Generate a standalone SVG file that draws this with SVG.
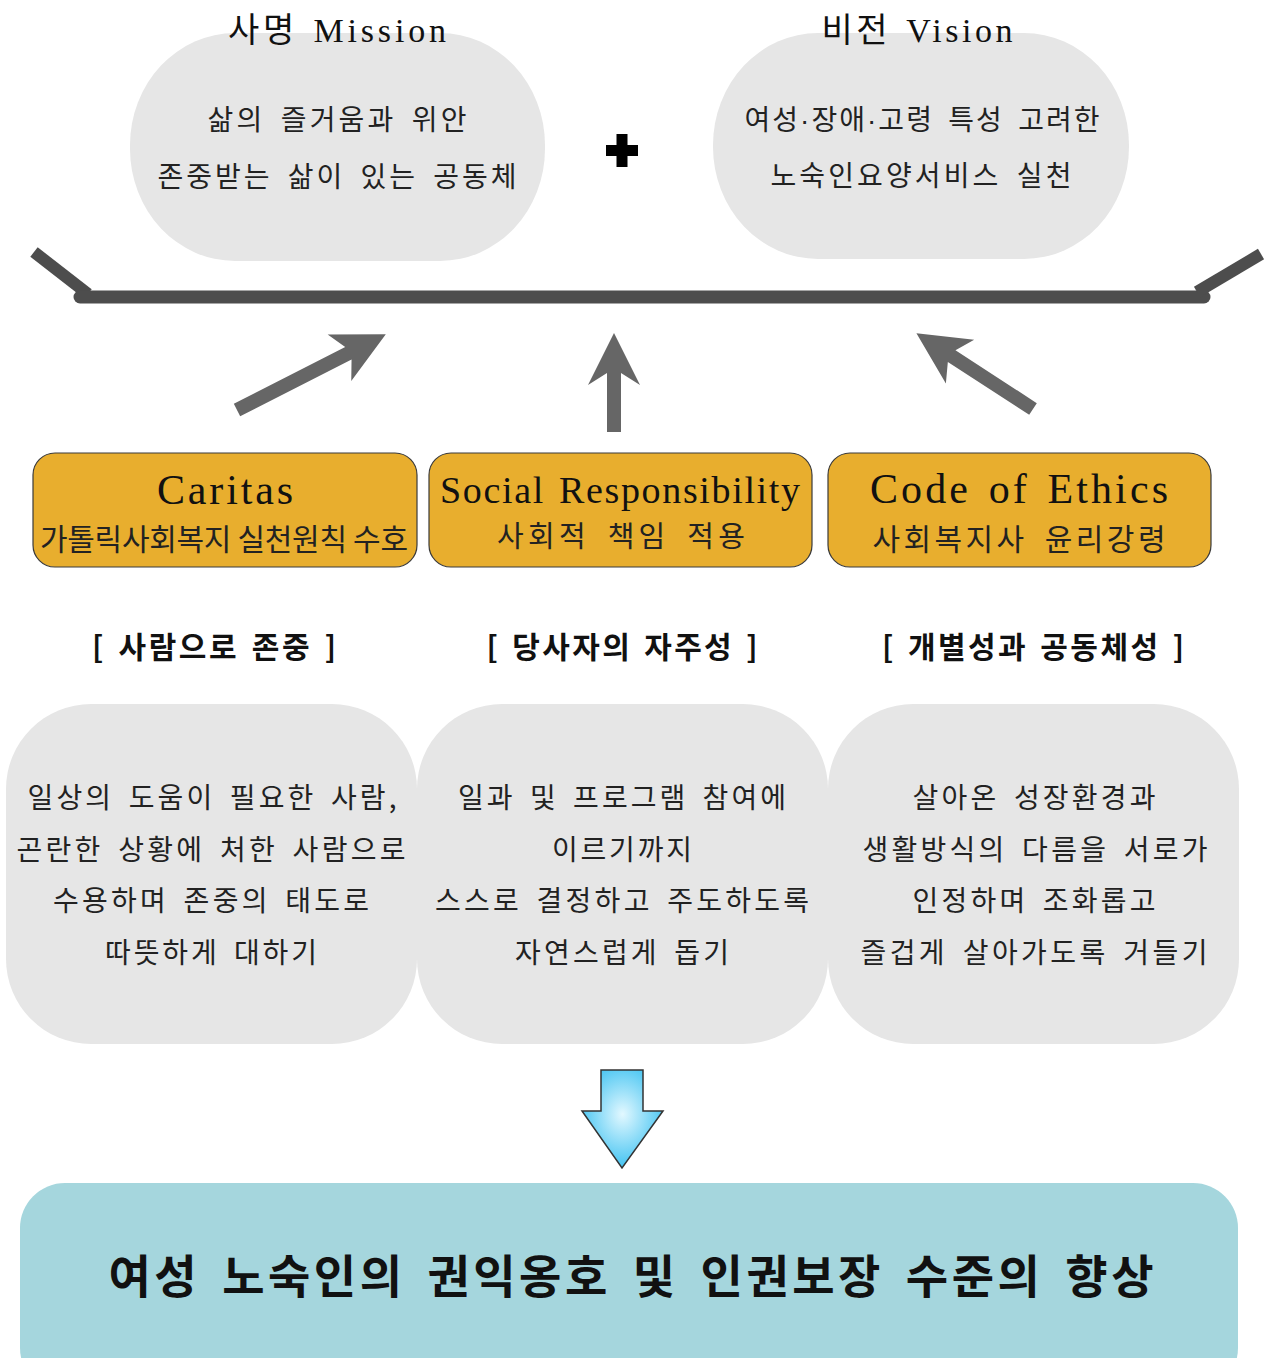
<svg xmlns="http://www.w3.org/2000/svg" width="1266" height="1358" viewBox="0 0 1266 1358">
<style>
.t{font-family:'Liberation Serif','Noto Sans CJK KR',serif;fill:#111;text-anchor:middle}
.k{font-family:'Noto Sans CJK KR','Liberation Sans',sans-serif;fill:#222;text-anchor:middle}
.hb{font-family:'Noto Sans CJK KR','Liberation Sans',sans-serif;font-weight:700;fill:#111;text-anchor:middle}
.pill{fill:#e6e6e6}
.gbox{fill:#e6e6e6}
.obox{fill:#e8ae2e;stroke:#3a3a3a;stroke-width:1.2}
.arr{fill:#666666}
.dot{font-family:'Liberation Sans',sans-serif}
</style>
<defs>
<radialGradient id="blue" cx="50%" cy="45%" r="60%">
<stop offset="0" stop-color="#e2f8ff"/>
<stop offset="1" stop-color="#33bef0"/>
</radialGradient>
</defs>

<g id="mission">
<rect class="pill" x="130" y="33" width="415" height="228" rx="105" ry="112"/>
<text class="t" x="337" y="42" font-size="34" word-spacing="3" textLength="218" lengthAdjust="spacing">사명 Mission</text>
<text class="k" x="337" y="130" font-size="28" word-spacing="6" textLength="259" lengthAdjust="spacing">삶의 즐거움과 위안</text>
<text class="k" x="337" y="187" font-size="28" word-spacing="6" textLength="359" lengthAdjust="spacing">존중받는 삶이 있는 공동체</text>
</g>

<g id="plus">
<rect x="606" y="145" width="32" height="11" fill="#000"/>
<rect x="616.5" y="134" width="11" height="33" fill="#000"/>
</g>

<g id="vision">
<rect class="pill" x="713" y="33" width="416" height="226" rx="105" ry="112"/>
<text class="t" x="917" y="42" font-size="34" word-spacing="3" textLength="191" lengthAdjust="spacing">비전 Vision</text>
<text class="k" x="922" y="130" font-size="28" word-spacing="6" textLength="355" lengthAdjust="spacing">여성<tspan class="dot">·</tspan>장애<tspan class="dot">·</tspan>고령 특성 고려한</text>
<text class="k" x="921" y="186" font-size="28" word-spacing="6" textLength="301" lengthAdjust="spacing">노숙인요양서비스 실천</text>
</g>

<g id="connectors">
<line x1="34" y1="252" x2="88" y2="294" stroke="#4d4d4d" stroke-width="12"/>
<line x1="80" y1="297" x2="1204" y2="297" stroke="#4d4d4d" stroke-width="13" stroke-linecap="round"/>
<line x1="1197" y1="292" x2="1261" y2="254" stroke="#4d4d4d" stroke-width="12"/>
<path class="arr" transform="translate(237,410) rotate(-27)" d="M0,-7 L125,-7 L115,-26 L167,0 L115,26 L125,7 L0,7 Z"/>
<path class="arr" transform="translate(614,432) rotate(-90)" d="M0,-7 L59,-7 L47,-26 L99,0 L47,26 L59,7 L0,7 Z"/>
<path class="arr" transform="translate(1033,409) rotate(-147)" d="M0,-7 L97,-7 L87,-26 L139,0 L87,26 L97,7 L0,7 Z"/>
<path d="M601,1070 L643,1070 L643,1111 L663,1111 L622,1168 L582,1111 L601,1111 Z" fill="url(#blue)" stroke="#333" stroke-width="1.5" stroke-linejoin="miter"/>
</g>

<g id="caritas">
<rect class="obox" x="33" y="453" width="384" height="114" rx="22"/>
<text class="t" x="225" y="504" font-size="42" textLength="136" lengthAdjust="spacing">Caritas</text>
<text class="k" x="224" y="550" font-size="30" textLength="368" lengthAdjust="spacing">가톨릭사회복지 실천원칙 수호</text>
</g>

<g id="social">
<rect class="obox" x="429" y="453" width="383" height="114" rx="22"/>
<text class="t" x="620" y="503" font-size="38" word-spacing="3" textLength="360" lengthAdjust="spacing">Social Responsibility</text>
<text class="k" x="621" y="547" font-size="29" word-spacing="7" textLength="248" lengthAdjust="spacing">사회적 책임 적용</text>
</g>

<g id="ethics">
<rect class="obox" x="828" y="453" width="383" height="114" rx="22"/>
<text class="t" x="1019" y="503" font-size="42" word-spacing="4" textLength="298" lengthAdjust="spacing">Code of Ethics</text>
<text class="k" x="1019" y="550" font-size="30" word-spacing="7" textLength="293" lengthAdjust="spacing">사회복지사 윤리강령</text>
</g>

<g id="respect">
<text class="hb" x="214" y="658" font-size="30" word-spacing="3" textLength="244" lengthAdjust="spacing">[ 사람으로 존중 ]</text>
<rect class="gbox" x="6" y="704" width="411" height="340" rx="85"/>
<text class="k" x="212" y="808" font-size="28" word-spacing="5" textLength="369" lengthAdjust="spacing">일상의 도움이 필요한 사람,</text>
<text class="k" x="211" y="860" font-size="28" word-spacing="5" textLength="389" lengthAdjust="spacing">곤란한 상황에 처한 사람으로</text>
<text class="k" x="211" y="911" font-size="28" word-spacing="5" textLength="316" lengthAdjust="spacing">수용하며 존중의 태도로</text>
<text class="k" x="211" y="963" font-size="28" word-spacing="5" textLength="212" lengthAdjust="spacing">따뜻하게 대하기</text>
</g>

<g id="autonomy">
<text class="hb" x="622" y="658" font-size="30" word-spacing="3" textLength="271" lengthAdjust="spacing">[ 당사자의 자주성 ]</text>
<rect class="gbox" x="417" y="704" width="411" height="340" rx="85"/>
<text class="k" x="622" y="808" font-size="28" word-spacing="5" textLength="328" lengthAdjust="spacing">일과 및 프로그램 참여에</text>
<text class="k" x="622" y="860" font-size="28" word-spacing="5" textLength="140" lengthAdjust="spacing">이르기까지</text>
<text class="k" x="622" y="911" font-size="28" word-spacing="5" textLength="374" lengthAdjust="spacing">스스로 결정하고 주도하도록</text>
<text class="k" x="622" y="963" font-size="28" word-spacing="5" textLength="214" lengthAdjust="spacing">자연스럽게 돕기</text>
</g>

<g id="community">
<text class="hb" x="1033" y="658" font-size="30" word-spacing="3" textLength="302" lengthAdjust="spacing">[ 개별성과 공동체성 ]</text>
<rect class="gbox" x="828" y="704" width="411" height="340" rx="85"/>
<text class="k" x="1034" y="808" font-size="28" word-spacing="5" textLength="243" lengthAdjust="spacing">살아온 성장환경과</text>
<text class="k" x="1035" y="860" font-size="28" word-spacing="5" textLength="345" lengthAdjust="spacing">생활방식의 다름을 서로가</text>
<text class="k" x="1034" y="911" font-size="28" word-spacing="5" textLength="243" lengthAdjust="spacing">인정하며 조화롭고</text>
<text class="k" x="1034" y="963" font-size="28" word-spacing="5" textLength="347" lengthAdjust="spacing">즐겁게 살아가도록 거들기</text>
</g>

<g id="goal">
<rect x="20" y="1183" width="1218" height="210" rx="45" fill="#a5d6dd"/>
<text class="hb" x="631" y="1293" font-size="46" word-spacing="8" textLength="1045" lengthAdjust="spacing">여성 노숙인의 권익옹호 및 인권보장 수준의 향상</text>
</g>
</svg>
